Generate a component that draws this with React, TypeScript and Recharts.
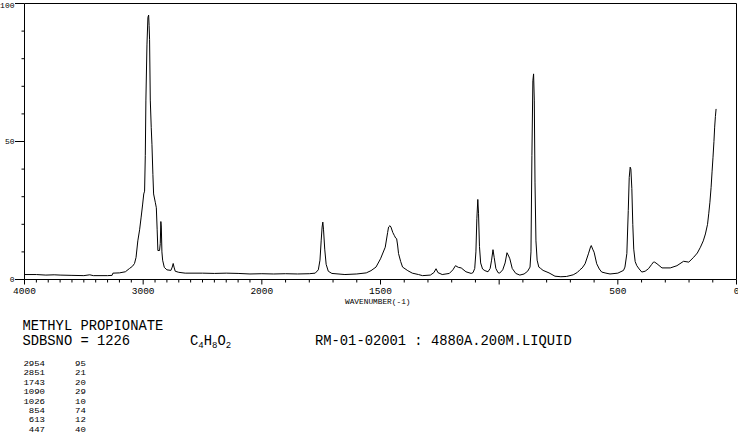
import React from 'react';
import { LineChart, Line, XAxis, YAxis, ReferenceLine } from 'recharts';

// Raman spectrum of methyl propionate, [wavenumber, intensity]
const highRegion: [number, number][] = [
  [4000, 1.8], [3900, 1.8], [3820, 1.6], [3750, 1.7], [3700, 1.6], [3600, 1.5], [3500, 1.4],
  [3450, 1.7], [3420, 1.4], [3300, 1.4], [3262, 1.5], [3255, 2.3], [3200, 2.4], [3150, 2.8],
  [3115, 4.0], [3090, 4.8], [3073, 5.8], [3060, 8], [3045, 14], [3030, 18], [3017, 22.6],
  [3005, 27], [2995, 31], [2988, 32], [2982, 45], [2977, 65], [2968, 85], [2960, 95],
  [2954, 95.8], [2950, 92], [2946, 87], [2940, 65], [2932, 55], [2926, 49], [2918, 38],
  [2912, 31], [2898, 28], [2889, 26], [2882, 18], [2876, 10.5], [2862, 10.5], [2856, 13],
  [2851, 21], [2847, 19], [2842, 10], [2836, 7], [2822, 4.4], [2800, 3.5], [2766, 3.3],
  [2755, 4.5], [2747, 5.8], [2740, 4.5], [2730, 3], [2700, 2.6], [2646, 2.3], [2500, 2.3],
  [2400, 2.2], [2300, 2.3], [2200, 2.2], [2100, 2.0],
];

const midRegion: [number, number][] = [
  [2000, 2.1], [1950, 2.0], [1900, 2.1], [1850, 2.0], [1800, 2.1], [1775, 2.3], [1762, 3.5],
  [1755, 7], [1750, 14], [1746, 19], [1743, 20.8], [1740, 18], [1735, 11], [1729, 5.5],
  [1720, 3], [1705, 2.2], [1650, 1.8], [1600, 2.0], [1560, 2.4], [1540, 3.2], [1519, 4.5],
  [1500, 7.5], [1480, 11.7], [1470, 17], [1466, 19], [1460, 19.5], [1456, 19], [1448, 17],
  [1442, 16], [1436, 15], [1432, 14.8], [1428, 12.5], [1424, 9.4], [1415, 6.5], [1407, 4.5],
  [1385, 3.2], [1366, 2.3], [1340, 1.8], [1323, 1.4], [1290, 1.6], [1275, 2.5], [1266, 3.9],
  [1258, 2.5], [1240, 1.8], [1210, 2.2], [1195, 3.5], [1184, 5.0], [1172, 4.4], [1160, 4.2],
  [1140, 2.8], [1118, 2.2], [1110, 2.5], [1103, 4], [1098, 10], [1094, 22], [1090, 29],
  [1087, 24], [1083, 12], [1078, 6], [1070, 3.8], [1060, 3.2], [1047, 2.8], [1038, 4],
  [1032, 7], [1026, 10.8], [1021, 8], [1014, 4], [1005, 2.5],
];

const lowRegion: [number, number][] = [
  [998, 2.3], [985, 3.5], [975, 6], [967, 9.7], [960, 8.5], [955, 7.5], [945, 4], [930, 2.2],
  [913, 1.6], [895, 2.0], [880, 3.0], [870, 4.5], [866, 10], [862, 45], [858, 72], [855, 74.5],
  [852, 65], [849, 35], [845, 14], [840, 7], [833, 4.5], [825, 4], [815, 3.3], [790, 2.4],
  [765, 1.2], [740, 1.0], [716, 1.1], [688, 1.7], [670, 2.6], [660, 3.5], [650, 4.2],
  [638, 5.7], [624, 9.3], [615, 11.8], [612, 12.3], [606, 11], [600, 9.9], [589, 5.7],
  [578, 3.8], [568, 2.7], [550, 2.3], [533, 2.0], [500, 2.3], [476, 3.3], [470, 4.5],
  [462, 9.4], [456, 25], [452, 37], [448, 40.7], [445, 40], [441, 33], [437, 20], [433, 11],
  [427, 6.5], [420, 5], [410, 3.8], [399, 2.7], [385, 3], [371, 3.9], [358, 5.4], [350, 6.3],
  [345, 6.3], [335, 5.7], [314, 4.2], [279, 4.2], [251, 5], [223, 6.6], [201, 6.3], [180, 8.1],
  [165, 9.6], [152, 11.7], [140, 14], [131, 16.5], [122, 20], [117, 23.8], [112, 28],
  [107, 33.4], [103, 39], [99, 44.3], [95, 50], [92, 55.2], [89, 59], [86, 61.8],
];

const xLabelTicks = [4000, 3000, 2000, 1500, 500, 0];
const xMajorTicks = [4000, 3000, 2000, 1500, 1000, 500, 0];
const yLabelTicks = [0, 50, 100];

const peakWaveNumbers = [2954, 2851, 1743, 1090, 1026, 854, 613, 447];
const peakIntensities = [95, 21, 20, 29, 10, 74, 12, 40];

// axis is compressed by half above 2000 cm-1
const toAxis = (w: number) => (w <= 2000 ? w : 2000 + (w - 2000) / 2);
const toWave = (u: number) => Math.round(u <= 2000 ? u : 2000 + (u - 2000) * 2);

const data = [...highRegion, ...midRegion, ...lowRegion].map(([w, v]) => ({ u: toAxis(w), v }));

const xTicks: number[] = [];
for (let w = 0; w <= 4000; w += 100) xTicks.push(toAxis(w));
const yTicks: number[] = [];
for (let v = 0; v <= 100; v += 10) yTicks.push(v);

const FONT = '"Liberation Mono", "DejaVu Sans Mono", monospace';

const renderXTick = (props: any) => {
  const { x, y, payload } = props;
  const w = toWave(payload.value);
  const major = xMajorTicks.includes(w);
  return (
    <g>
      <line x1={x} y1={y} x2={x} y2={y + (major ? 5 : 3)} stroke="#000" />
      {xLabelTicks.includes(w) && (
        <text x={x} y={y + 11.5} textAnchor="middle" dominantBaseline="central" fontFamily={FONT} fontSize={9.5} fill="#000">
          {w}
        </text>
      )}
    </g>
  );
};

const renderYTick = (props: any) => {
  const { x, y, payload } = props;
  const major = yLabelTicks.includes(payload.value);
  return (
    <g>
      <line x1={x} y1={y} x2={x - (major ? 9.5 : 3)} y2={y} stroke="#000" />
      {major && (
        <text x={x - 10} y={Math.max(y, 5.5)} textAnchor="end" dominantBaseline="central" fontFamily={FONT} fontSize={8} fill="#000">
          {payload.value}
        </text>
      )}
    </g>
  );
};

const App: React.FC = () => {
  return (
    <div style={{ position: 'absolute', left: 0, top: 0, width: 738, height: 437, background: '#fff' }}>
      <LineChart width={738} height={437} data={data} margin={{ top: 3.5, right: 1.5, bottom: 0, left: 0.5 }}>
        <XAxis
          dataKey="u"
          type="number"
          domain={[0, 3000]}
          reversed
          ticks={xTicks}
          interval={0}
          tick={renderXTick}
          tickLine={false}
          tickSize={0}
          tickMargin={0}
          height={157.5}
          axisLine={{ stroke: '#000' }}
          allowDataOverflow
        />
        <YAxis
          type="number"
          domain={[0, 100]}
          ticks={yTicks}
          interval={0}
          width={24}
          tick={renderYTick}
          tickLine={false}
          tickSize={0}
          tickMargin={0}
          axisLine={{ stroke: '#000' }}
          allowDataOverflow
        />
        <ReferenceLine y={100} stroke="#000" />
        <ReferenceLine x={0} stroke="#000" />
        <Line dataKey="v" type="linear" stroke="#000" strokeWidth={1} dot={false} isAnimationActive={false} />
      </LineChart>
      <svg width={738} height={437} style={{ position: 'absolute', left: 0, top: 0, pointerEvents: 'none' }}>
        <text x={345} y={301.5} dominantBaseline="central" fontFamily={FONT} fontSize={7.8} fill="#000">
          WAVENUMBER(-1)
        </text>
        <text x={22.5} y={329.5} fontFamily={FONT} fontSize={13.8} fill="#000">METHYL PROPIONATE</text>
        <text x={22.5} y={345} fontFamily={FONT} fontSize={13.8} fill="#000">SDBSNO = 1226</text>
        <text x={190} y={345} fontFamily={FONT} fontSize={13.8} fill="#000">
          C<tspan fontSize={9} dy={2.5}>4</tspan>
          <tspan dy={-2.5}>H</tspan>
          <tspan fontSize={9} dy={2.5}>8</tspan>
          <tspan dy={-2.5}>O</tspan>
          <tspan fontSize={9} dy={2.5}>2</tspan>
        </text>
        <text x={315} y={345} fontFamily={FONT} fontSize={13.8} fill="#000">RM-01-02001 : 4880A.200M.LIQUID</text>
        {peakWaveNumbers.map((w, i) => {
          const w_ = String(w);
          const v_ = String(peakIntensities[i]);
          return (
            <g key={w}>
              <text x={45} y={366 + i * 9.4} textAnchor="end" fontFamily={FONT} fontSize={8} fill="#000"
                textLength={w_.length * 5.4} lengthAdjust="spacingAndGlyphs">{w_}</text>
              <text x={75} y={366 + i * 9.4} fontFamily={FONT} fontSize={8} fill="#000"
                textLength={v_.length * 5.4} lengthAdjust="spacingAndGlyphs">{v_}</text>
            </g>
          );
        })}
      </svg>
    </div>
  );
};

export default App;
